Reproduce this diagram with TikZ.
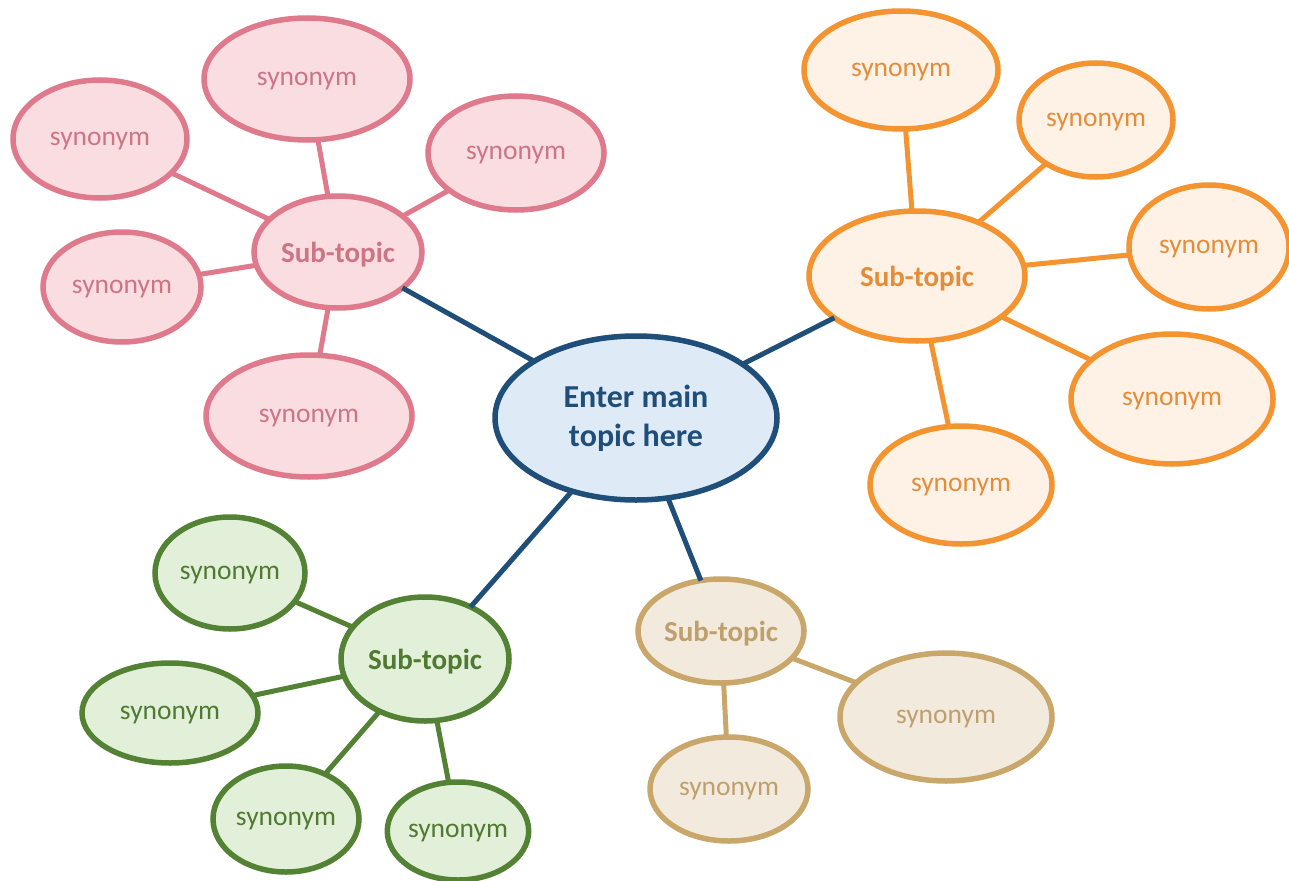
\documentclass[tikz,border=0pt]{standalone}
\usepackage{fontspec}
\setmainfont{Carlito}
\usetikzlibrary{shapes.geometric}
\definecolor{mainb}{HTML}{1F4E79}
\definecolor{mainf}{HTML}{DEEBF7}
\definecolor{pinkb}{HTML}{DE7A8C}
\definecolor{pinkf}{HTML}{F9DDE1}
\definecolor{pinkt}{HTML}{CC7585}
\definecolor{orab}{HTML}{F39431}
\definecolor{oraf}{HTML}{FEF2E6}
\definecolor{orat}{HTML}{E38D3A}
\definecolor{grnb}{HTML}{548235}
\definecolor{grnf}{HTML}{E2EFD9}
\definecolor{grnt}{HTML}{4F7A30}
\definecolor{tanb}{HTML}{C9A76B}
\definecolor{tanf}{HTML}{F2EADC}
\definecolor{tant}{HTML}{BFA06C}
\tikzset{
  bub/.style={ellipse, line width=5.5pt, inner sep=0pt, outer sep=0pt},
  syn/.style={bub, text depth=0pt, font=\fontsize{27.5}{32}\selectfont},
  sub/.style={bub, text depth=0pt, font=\bfseries\fontsize{29}{34}\selectfont},
  el/.style 2 args={minimum width=2*#1, minimum height=2*#2},
  pinkn/.style={draw=pinkb, fill=pinkf, text=pinkt},
  oran/.style={draw=orab, fill=oraf, text=orat},
  grnn/.style={draw=grnb, fill=grnf, text=grnt},
  tann/.style={draw=tanb, fill=tanf, text=tant},
  link/.style={line width=5pt},
}
\begin{document}
\begin{tikzpicture}[x=1pt,y=-1pt]
\useasboundingbox (0,0) rectangle (1289,880);
% main
\node[bub, draw=mainb, fill=mainf, text=mainb, el={141}{82}, align=center,
  font=\bfseries\fontsize{32}{39}\selectfont] (main) at (636,418) {Enter main\\topic here};
% pink
\node[sub, pinkn, el={84}{56}] (ps) at (338,252) {Sub-topic};
\node[syn, pinkn, el={103}{61}] (p1) at (307,79) {synonym};
\node[syn, pinkn, el={87}{59}] (p2) at (100,139) {synonym};
\node[syn, pinkn, el={88}{57}] (p3) at (516,153) {synonym};
\node[syn, pinkn, el={79}{55}] (p4) at (122,287) {synonym};
\node[syn, pinkn, el={103}{61}] (p5) at (309,416) {synonym};
% orange
\node[sub, oran, el={108}{65}] (os) at (917,276) {Sub-topic};
\node[syn, oran, el={97}{59}] (o1) at (901,70) {synonym};
\node[syn, oran, el={77}{57}] (o2) at (1096,120) {synonym};
\node[syn, oran, el={80}{62}] (o3) at (1209,247) {synonym};
\node[syn, oran, el={101}{65}] (o4) at (1172,399) {synonym};
\node[syn, oran, el={91}{59}] (o5) at (961,485) {synonym};
% green
\node[sub, grnn, el={84}{62}] (gs) at (425,659) {Sub-topic};
\node[syn, grnn, el={75}{56}] (g1) at (230,573) {synonym};
\node[syn, grnn, el={88}{50}] (g2) at (170,713) {synonym};
\node[syn, grnn, el={73}{53}] (g3) at (286,819) {synonym};
\node[syn, grnn, el={68}{49}] (g4) at (458,831) {synonym};
% tan
\node[sub, tann, el={83}{52}] (ts) at (721,631) {Sub-topic};
\node[syn, tann, el={106}{64}] (t1) at (946,717) {synonym};
\node[syn, tann, el={79}{52}] (t2) at (729,789) {synonym};
% connectors
\draw[link, mainb] (main) -- (ps);
\draw[link, mainb] (main) -- (os);
\draw[link, mainb] (main) -- (gs);
\draw[link, mainb] (main) -- (ts);
\foreach \n in {p1,p2,p3,p4,p5} \draw[link, pinkb] (ps) -- (\n);
\foreach \n in {o1,o2,o3,o4,o5} \draw[link, orab] (os) -- (\n);
\foreach \n in {g1,g2,g3,g4} \draw[link, grnb] (gs) -- (\n);
\foreach \n in {t1,t2} \draw[link, tanb] (ts) -- (\n);
\end{tikzpicture}
\end{document}
